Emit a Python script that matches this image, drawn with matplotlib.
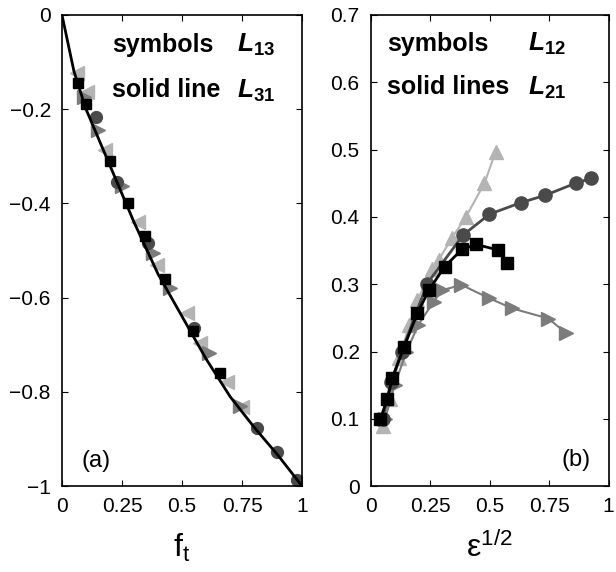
import numpy as np
import matplotlib.pyplot as plt

plt.rcParams['font.family'] = ['Liberation Sans', 'DejaVu Sans']
plt.rcParams['mathtext.fontset'] = 'custom'
plt.rcParams['mathtext.rm'] = 'Liberation Sans:bold'
plt.rcParams['mathtext.it'] = 'Liberation Sans:bold:italic'

# panel (a): L13 symbols, L31 solid line vs f_t
ft_line = [0, 0.05, 0.1, 0.2, 0.3, 0.4, 0.5, 0.6, 0.7, 0.8, 0.9, 1.0]
L31_line = [0, -0.12, -0.2, -0.32, -0.44, -0.55, -0.64, -0.73, -0.81, -0.875, -0.935, -1.0]

a_sq_x = [0.067, 0.10, 0.20, 0.275, 0.346, 0.43, 0.546, 0.658]
a_sq_y = [-0.145, -0.19, -0.31, -0.40, -0.47, -0.56, -0.67, -0.76]
a_ci_x = [0.14, 0.23, 0.36, 0.55, 0.81, 0.895, 0.98]
a_ci_y = [-0.216, -0.354, -0.484, -0.665, -0.877, -0.928, -0.987]
a_lt_x = [0.061, 0.103, 0.179, 0.318, 0.394, 0.519, 0.575, 0.686, 0.749]
a_lt_y = [-0.123, -0.163, -0.287, -0.439, -0.531, -0.633, -0.697, -0.778, -0.832]
a_md_x = [0.09, 0.15, 0.25, 0.38, 0.45, 0.61, 0.74]
a_md_y = [-0.175, -0.245, -0.364, -0.506, -0.58, -0.718, -0.83]

# panel (b): L12 symbols, L21 lines vs eps^1/2
b_lt_x = [0.05, 0.08, 0.12, 0.161, 0.196, 0.257, 0.285, 0.34, 0.40, 0.478, 0.525]
b_lt_y = [0.09, 0.13, 0.19, 0.239, 0.276, 0.323, 0.336, 0.368, 0.40, 0.45, 0.497]
b_ci_x = [0.05, 0.085, 0.13, 0.237, 0.388, 0.499, 0.63, 0.733, 0.861, 0.926]
b_ci_y = [0.10, 0.155, 0.20, 0.301, 0.373, 0.404, 0.421, 0.432, 0.45, 0.457]
b_sq_x = [0.04, 0.07, 0.09, 0.14, 0.196, 0.244, 0.31, 0.384, 0.443, 0.533, 0.574]
b_sq_y = [0.10, 0.13, 0.16, 0.207, 0.257, 0.291, 0.326, 0.352, 0.359, 0.351, 0.332]
b_rt_x = [0.06, 0.10, 0.15, 0.20, 0.264, 0.299, 0.381, 0.499, 0.595, 0.747, 0.822]
b_rt_y = [0.10, 0.15, 0.20, 0.24, 0.274, 0.291, 0.299, 0.279, 0.264, 0.249, 0.227]

xticks = [0, 0.25, 0.5, 0.75, 1]
xticklabels = ['0', '0.25', '0.5', '0.75', '1']

light = '#b4b4b4'
mid = '#7c7c7c'
dark = '#4a4a4a'

fig = plt.figure(figsize=(6.16, 5.72), dpi=100)
ax1 = fig.add_axes([0.1006, 0.150, 0.390, 0.824])
ax2 = fig.add_axes([0.602, 0.150, 0.386, 0.824])

# (a)
ax1.plot(a_lt_x, a_lt_y, '<', color=light, ms=10, mec=light)
ax1.plot(a_md_x, a_md_y, '>', color=mid, ms=10, mec=mid)
ax1.plot(a_ci_x, a_ci_y, 'o', color=dark, ms=8.5, mec=dark)
ax1.plot(a_sq_x, a_sq_y, 's', color='black', ms=7.5)
ax1.plot(ft_line, L31_line, '-', color='black', lw=2)
ax1.set_xlim(0, 1)
ax1.set_ylim(-1, 0)
ax1.set_yticks([0, -0.2, -0.4, -0.6, -0.8, -1])
ax1.set_yticklabels(['0', '\u22120.2', '\u22120.4', '\u22120.6', '\u22120.8', '\u22121'])
ax1.set_xlabel('f$_\\mathregular{t}$', fontsize=23, labelpad=11)
ax1.text(0.21, -0.078, 'symbols', fontsize=18, fontweight='bold')
ax1.text(0.73, -0.078, '$L_{13}$', fontsize=19)
ax1.text(0.21, -0.175, 'solid line', fontsize=18, fontweight='bold')
ax1.text(0.73, -0.175, '$L_{31}$', fontsize=19)
ax1.text(0.08, -0.96, '(a)', fontsize=17)

# (b)
ax2.plot(b_lt_x, b_lt_y, '-^', color=light, ms=10, lw=1.5)
ax2.plot(b_rt_x, b_rt_y, '->', color=mid, ms=10, lw=1.5)
ax2.plot(b_ci_x, b_ci_y, '-o', color=dark, ms=9.5, lw=2)
ax2.plot(b_sq_x, b_sq_y, '-s', color='black', ms=8.5, lw=2)
ax2.set_xlim(0, 1)
ax2.set_ylim(0, 0.7)
ax2.set_yticks(np.arange(0, 0.71, 0.1))
ax2.set_yticklabels(['0', '0.1', '0.2', '0.3', '0.4', '0.5', '0.6', '0.7'])
ax2.set_xlabel('\u03b5$^\\mathregular{1/2}$', fontsize=23, labelpad=11)
ax2.text(0.07, 0.647, 'symbols', fontsize=18, fontweight='bold')
ax2.text(0.66, 0.647, '$L_{12}$', fontsize=19)
ax2.text(0.07, 0.582, 'solid lines', fontsize=18, fontweight='bold')
ax2.text(0.66, 0.582, '$L_{21}$', fontsize=19)
ax2.text(0.80, 0.03, '(b)', fontsize=17)

for ax in (ax1, ax2):
    ax.set_xticks(xticks)
    ax.set_xticklabels(xticklabels)
    ax.tick_params(direction='in', top=True, right=True, labelsize=15, length=4, pad=8)
    for s in ax.spines.values():
        s.set_linewidth(1.2)

fig.savefig('out.png', dpi=100)
